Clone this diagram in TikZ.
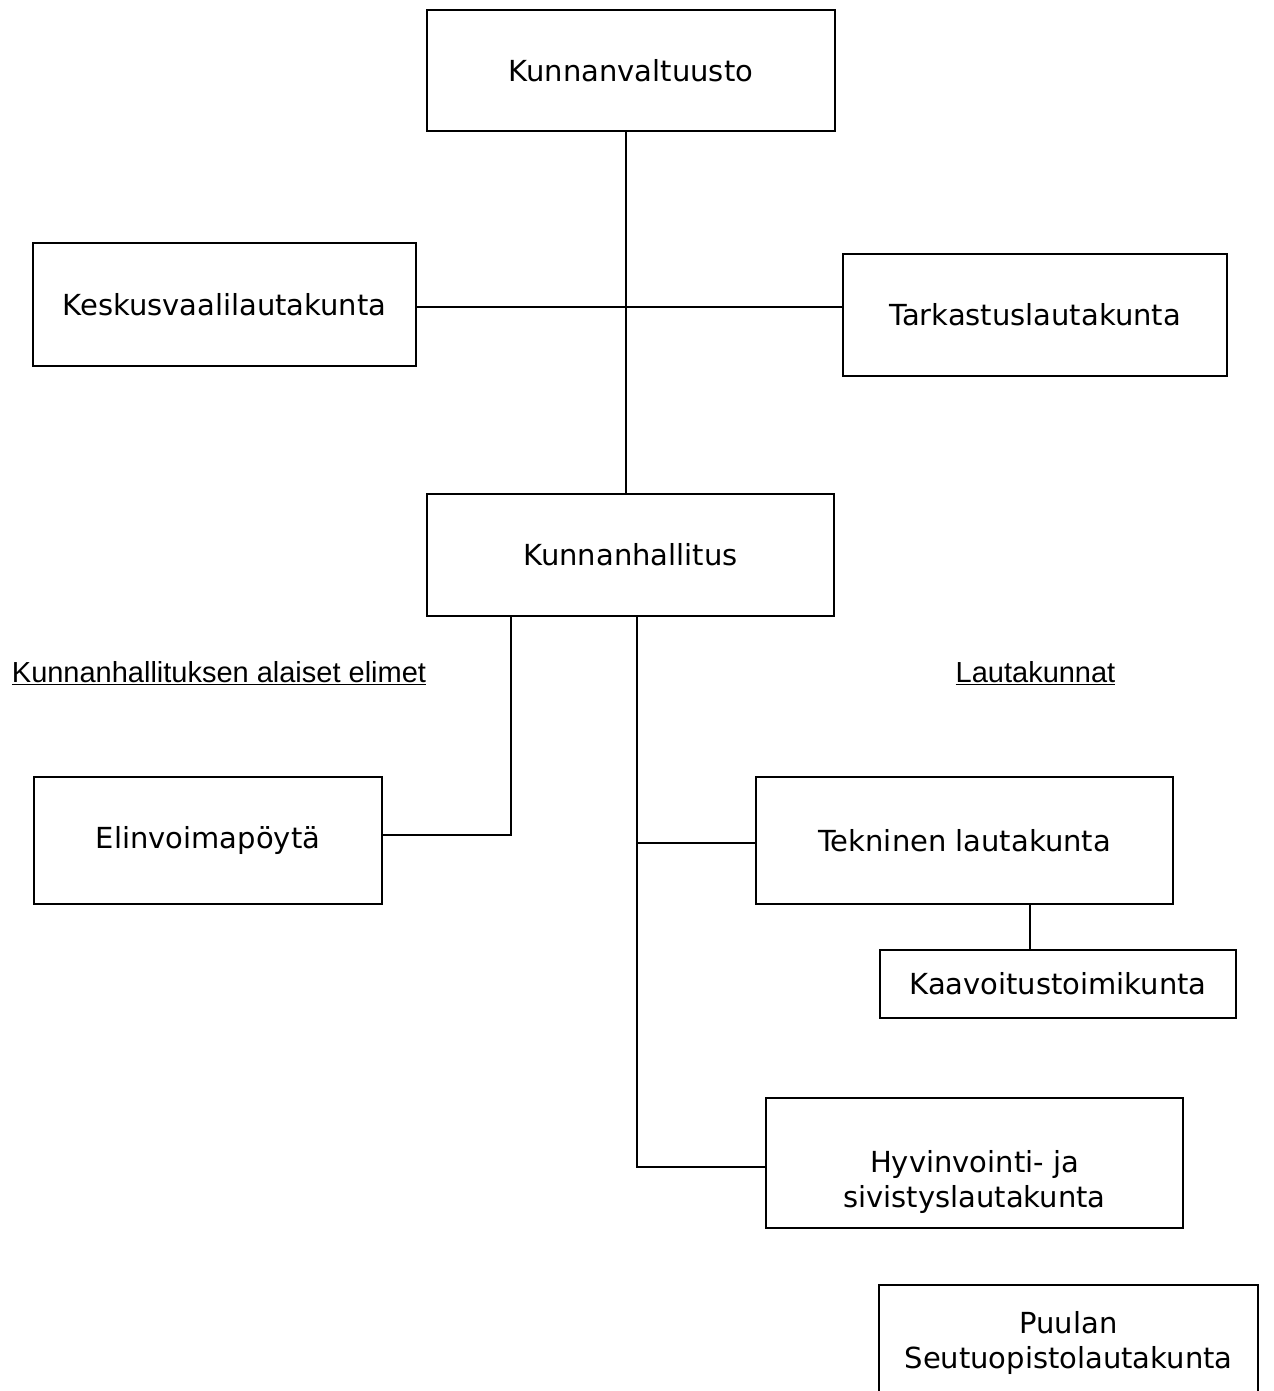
\documentclass[tikz,border=0pt]{standalone}
\usepackage{fontspec}
\setmainfont{DejaVu Sans}
\newfontfamily\arialfont{Liberation Sans}
\usetikzlibrary{positioning}
\newlength\pxl
\setlength\pxl{0.02cm}
\tikzset{
  orgbox/.style={draw, line width=0.6pt, inner sep=0pt, align=center,
    font=\fontsize{16.5pt}{20pt}\selectfont},
  heading/.style={anchor=base, font=\arialfont\fontsize{16.5pt}{20pt}\selectfont},
  link/.style={line width=0.6pt}
}
\begin{document}
\begin{tikzpicture}[x=0.02cm,y=-0.02cm]
		\useasboundingbox (0,0) rectangle (1273,1391);
		\node[orgbox, minimum width=408\pxl, minimum height=121\pxl] (valt) at (631,70.5) {Kunnanvaltuusto};
		\node[orgbox, minimum width=383\pxl, minimum height=123\pxl] (vaali) at (224.5,304.5) {Keskusvaalilautakunta};
		\node[orgbox, minimum width=384\pxl, minimum height=122\pxl] (tark) at (1035,315) {Tarkastuslautakunta};
		\node[orgbox, minimum width=407\pxl, minimum height=122\pxl] (hall) at (630.5,555) {Kunnanhallitus};
		\node[heading] (alaiset) at (219,682) {\underline{Kunnanhallituksen alaiset elimet}};
		\node[heading] (lauta) at (1035.5,682) {\underline{Lautakunnat}};
		\node[orgbox, minimum width=348\pxl, minimum height=127\pxl] (elin) at (208,840.5) {Elinvoimapöytä};
		\node[orgbox, minimum width=417\pxl, minimum height=127\pxl] (tekn) at (964.5,840.5) {Tekninen lautakunta};
		\node[orgbox, minimum width=356\pxl, minimum height=68\pxl] (kaav) at (1058,984) {Kaavoitustoimikunta};
		\node[orgbox, minimum width=417\pxl, minimum height=130\pxl,
		  label={[orgbox, draw=none, yshift=-19\pxl]center:Hyvinvointi- ja\\sivistyslautakunta}] (hyv) at (974.5,1163) {};
		\node[orgbox, minimum width=379\pxl, minimum height=116\pxl] (puu) at (1068.5,1343) {Puulan\\Seutuopistolautakunta};
		%connectors
		\coordinate (mid) at (626,307);
		\draw[link] ([xshift=-5\pxl]valt.south) -- ([xshift=-4.5\pxl]hall.north);
		\draw[link] (mid -| vaali.east) -- (mid -| tark.west);
		\draw[link] ([xshift=-119.5\pxl]hall.south) |- ([yshift=5.5\pxl]elin.east);
		\draw[link] ([xshift=6.5\pxl]hall.south) |- ([yshift=-2.5\pxl]tekn.west);
		\draw[link] ([xshift=6.5\pxl]hall.south) |- ([yshift=-4\pxl]hyv.west);
		\draw[link] ([xshift=65.5\pxl]tekn.south) -- ([xshift=65.5\pxl]tekn.south |- kaav.north);
	\end{tikzpicture}
\end{document}
